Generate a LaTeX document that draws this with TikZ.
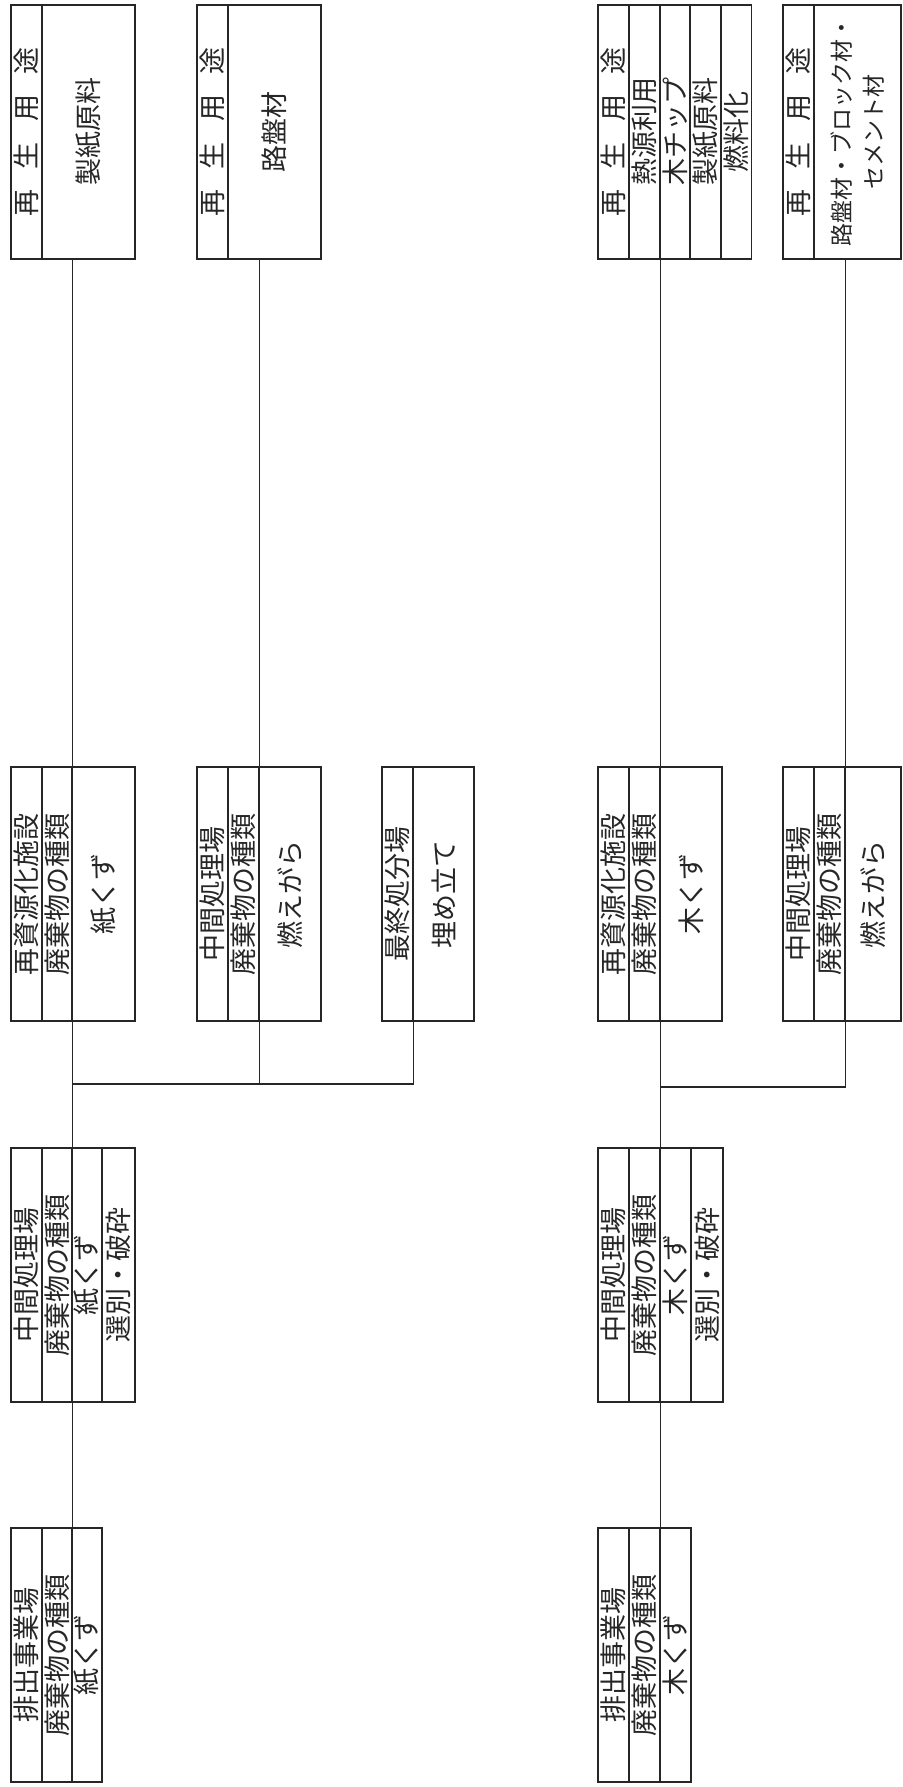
\documentclass[tikz,border=0pt]{standalone}
\usepackage{fontspec}
\setmainfont{Noto Sans CJK JP}
\begin{document}
\begin{tikzpicture}[x=0.5pt,y=-0.5pt,line width=0.7pt,color=black!85,
  font=\fontsize{13.5pt}{16pt}\selectfont,
  cell/.style={draw,rotate=90,inner sep=0pt,minimum width=127pt,minimum height=#1,align=center},
  cell/.default=15.5pt]
\useasboundingbox (0,0) rectangle (902,1787);
% paper waste
\node[cell] (pEmit1) at (26.5,1655) {排出事業場};
\node[cell=15pt] (pEmit2) at (57,1655) {廃棄物の種類};
\node[cell=15pt] (pEmit3) at (87,1655) {紙くず};
\node[cell] (pMid1) at (26.5,1275) {中間処理場};
\node[cell=15pt] (pMid2) at (57,1275) {廃棄物の種類};
\node[cell=15pt] (pMid3) at (87,1275) {紙くず};
\node[cell=16.5pt] (pMid4) at (118.5,1275) {選別・破砕};
\node[cell] (pRec1) at (26.5,894) {再資源化施設};
\node[cell=15pt] (pRec2) at (57,894) {廃棄物の種類};
\node[cell=31.5pt] (pRec3) at (103.5,894) {紙くず};
\node[cell] (pFire1) at (212.5,894) {中間処理場};
\node[cell] (pFire2) at (243.5,894) {廃棄物の種類};
\node[cell=31pt] (pFire3) at (290,894) {燃えがら};
\node[cell] (pLand1) at (397.5,894) {最終処分場};
\node[cell=30.5pt] (pLand2) at (443.5,894) {埋め立て};
\node[cell] (pUse1) at (26.5,132) {再\hspace{.75em}生\hspace{.75em}用\hspace{.75em}途};
\node[cell=46.5pt] (pUse2) at (88.5,132) {製紙原料};
\node[cell] (pRoad1) at (212.5,132) {再\hspace{.75em}生\hspace{.75em}用\hspace{.75em}途};
\node[cell=46.5pt] (pRoad2) at (274.5,132) {路盤材};
\coordinate (pJoin) at (72,1084);
\draw (pEmit2.south east) -- (pMid2.south west);
\draw (pMid2.south east) -- (pRec2.south west);
\draw (pRec2.south east) -- (pRec2.south east |- pUse2.west);
\draw (pFire2.south east) -- (pFire2.south east |- pRoad2.west);
\draw (pFire2.south west) |- (pJoin);
\draw (pLand1.south west) |- (pJoin);
% wood waste
\node[cell] (wEmit1) at (613.5,1655) {排出事業場};
\node[cell] (wEmit2) at (644.5,1655) {廃棄物の種類};
\node[cell] (wEmit3) at (675.5,1655) {木くず};
\node[cell] (wMid1) at (613.5,1275) {中間処理場};
\node[cell] (wMid2) at (644.5,1275) {廃棄物の種類};
\node[cell] (wMid3) at (675.5,1275) {木くず};
\node[cell=16pt] (wMid4) at (707,1275) {選別・破砕};
\node[cell] (wRec1) at (613.5,894) {再資源化施設};
\node[cell] (wRec2) at (644.5,894) {廃棄物の種類};
\node[cell=31pt] (wRec3) at (691,894) {木くず};
\node[cell] (wFire1) at (798.5,894) {中間処理場};
\node[cell] (wFire2) at (829.5,894) {廃棄物の種類};
\node[cell=28pt] (wFire3) at (873,894) {燃えがら};
\node[cell] (wUse1) at (613.5,132) {再\hspace{.75em}生\hspace{.75em}用\hspace{.75em}途};
\node[cell] (wUse2) at (644.5,132) {熱源利用};
\node[cell=15pt] (wUse3) at (675,132) {木チップ};
\node[cell] (wUse4) at (705.5,132) {製紙原料};
\node[cell=15pt] (wUse5) at (736.5,132) {燃料化};
\node[cell] (wRoad1) at (798.5,132) {再\hspace{.75em}生\hspace{.75em}用\hspace{.75em}途};
\node[cell=43.5pt,font=\fontsize{11.5pt}{16pt}\selectfont] (wRoad2) at (857.5,132) {路盤材・ブロック材・\\セメント材};
\coordinate (wJoin) at (660,1087);
\draw (wEmit2.south east) -- (wMid2.south west);
\draw (wMid2.south east) -- (wRec2.south west);
\draw (wRec2.south east) -- (wUse2.south west);
\draw (wFire2.south east) -- (wFire2.south east |- wRoad2.west);
\draw (wFire2.south west) |- (wJoin);
\end{tikzpicture}
\end{document}
